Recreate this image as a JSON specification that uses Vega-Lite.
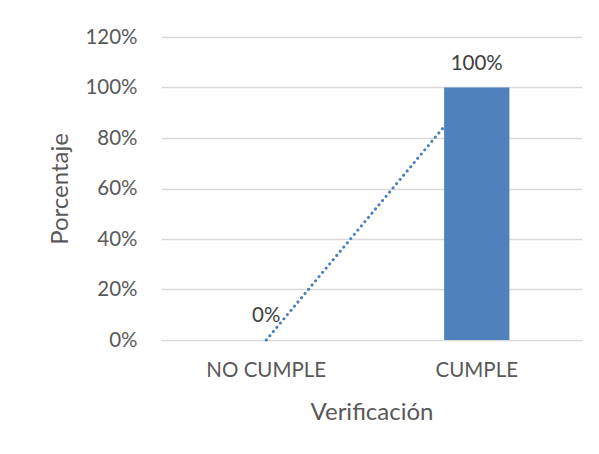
{
  "$schema": "https://vega.github.io/schema/vega-lite/v6.json",
  "width": 421,
  "height": 303,
  "autosize": {"type": "none"},
  "padding": {"left": 161, "top": 37, "right": 17, "bottom": 114},
  "background": "white",
  "config": {
    "view": {"stroke": null},
    "font": "Lato",
    "axis": {"labelFont": "Lato", "titleFont": "Lato", "labelColor": "#595959", "titleColor": "#595959", "titleFontWeight": "normal"}
  },
  "data": {"values": [
    {"Verificacion": "NO CUMPLE", "Porcentaje": 0},
    {"Verificacion": "CUMPLE", "Porcentaje": 1}
  ]},
  "encoding": {
    "x": {
      "field": "Verificacion", "type": "nominal", "sort": ["NO CUMPLE", "CUMPLE"],
      "scale": {"paddingInner": 0.69, "paddingOuter": 0.345},
      "axis": {"title": "Verificación", "labelAngle": 0, "labelFontSize": 20.5, "titleFontSize": 24, "domain": false, "ticks": false, "labelPadding": 20, "titlePadding": 20}
    },
    "y": {
      "field": "Porcentaje", "type": "quantitative",
      "scale": {"domain": [0, 1.2], "nice": false},
      "axis": {"title": "Porcentaje", "format": ".0%", "values": [0, 0.2, 0.4, 0.6, 0.8, 1.0, 1.2], "labelFontSize": 20.5, "titleFontSize": 24, "domain": false, "ticks": false, "labelPadding": 24, "titlePadding": 12, "gridColor": "#d9d9d9", "gridWidth": 1.3}
    }
  },
  "layer": [
    {"mark": {"type": "line", "color": "#4a7ebb", "strokeWidth": 3, "strokeDash": [0.1, 5.4], "strokeCap": "round"}},
    {"mark": {"type": "bar", "color": "#4f81bd"}},
    {"mark": {"type": "text", "fontSize": 20.5, "color": "#404040", "baseline": "alphabetic", "dy": -18, "font": "Lato"},
     "encoding": {"text": {"field": "Porcentaje", "type": "quantitative", "format": ".0%"}}}
  ]
}
